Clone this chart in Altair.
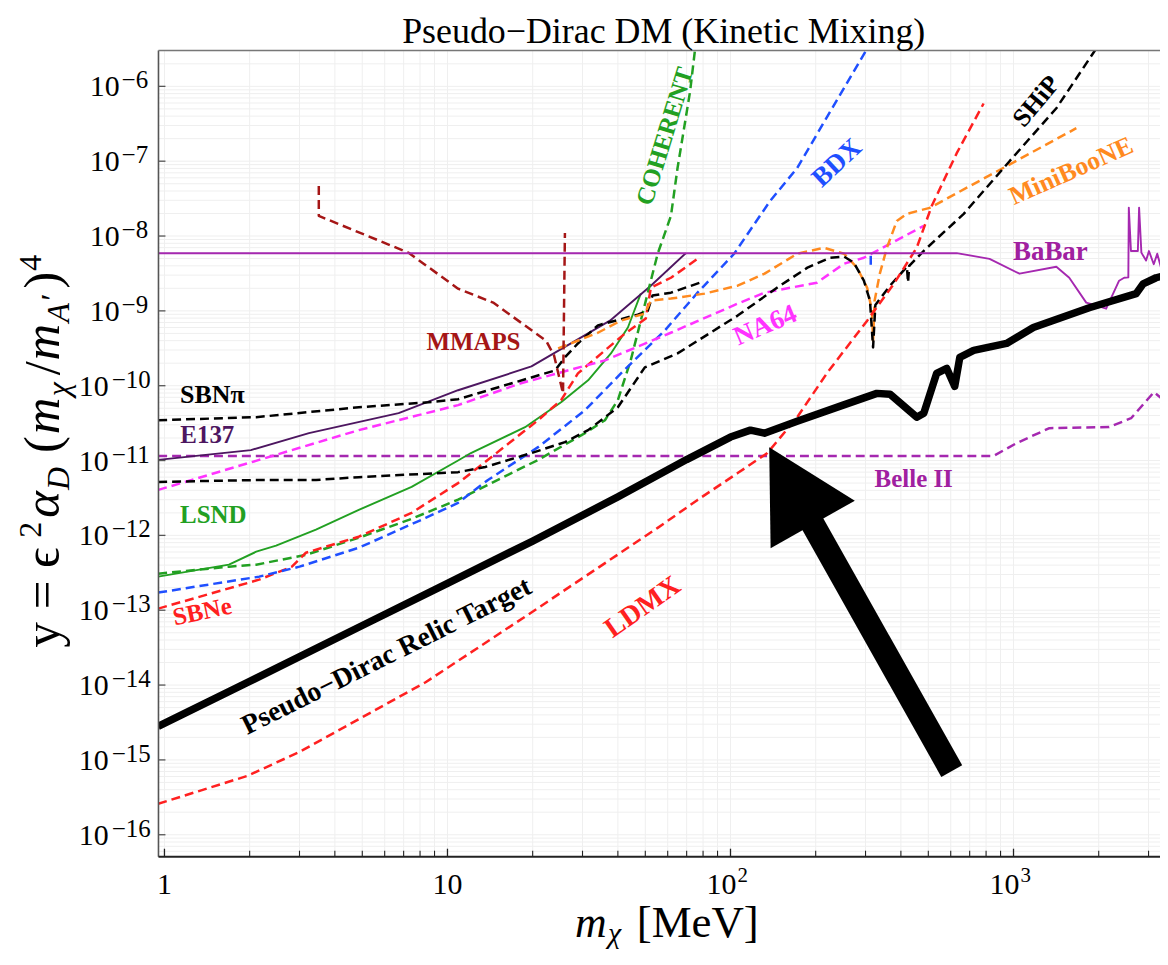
import altair as alt
import pandas as pd

# ---------------- data (m_chi [MeV], y) ----------------
relic = [(0.95, 2.8e-15), (2.0, 1.12e-14), (5.0, 6.25e-14), (10, 2.29e-13), (20, 8.4e-13),
         (40, 3.27e-12), (70, 1.03e-11), (100, 2.06e-11), (117.6, 2.55e-11), (131.8, 2.32e-11),
         (172, 3.36e-11), (250, 5.5e-11), (329, 7.9e-11), (366, 7.7e-11), (455, 3.8e-11),
         (482, 4.3e-11), (535, 1.46e-10), (581, 1.7e-10), (620, 9.8e-11), (646, 2.39e-10),
         (723, 2.96e-10), (945, 3.67e-10), (1175, 6.0e-10), (1852, 1.1e-9), (2713, 1.7e-9),
         (2870, 2.3e-9), (3190, 2.77e-9), (3400, 2.95e-9)]

babar = [(0.95, 5.9e-9), (630, 5.9e-9), (823, 4.96e-9), (1050, 3.14e-9), (1417, 3.89e-9),
         (1574, 2.77e-9), (1807, 1.29e-9), (1914, 1.21e-9), (2125, 1.07e-9), (2249, 1.70e-9),
         (2361, 2.53e-9), (2460, 2.77e-9), (2545, 2.8e-9), (2555, 2.4e-8), (2600, 6.3e-9),
         (2750, 6.3e-9), (2778, 2.4e-8), (2830, 6.0e-9), (2940, 4.7e-9), (3010, 6.3e-9),
         (3130, 4.2e-9), (3220, 5.8e-9), (3320, 3.8e-9), (3400, 5.0e-9)]

belle2 = [(0.95, 1.15e-11), (850, 1.15e-11), (1025, 1.71e-11), (1339, 2.71e-11), (2178, 2.8e-11),
          (2603, 3.68e-11), (3135, 8.2e-11), (3400, 6.4e-11)]

e137 = [(0.95, 1.02e-11), (2.02, 1.38e-11), (3.24, 2.32e-11), (6.72, 4.3e-11), (10.9, 8.7e-11),
        (19.8, 1.81e-10), (37.5, 7.4e-10), (52.3, 2.17e-9), (69.5, 5.9e-9)]

lsnd = [(0.95, 2.81e-13), (1.69, 4.06e-13), (2.11, 6.05e-13), (2.48, 7.3e-13), (3.43, 1.19e-12),
        (4.86, 2.19e-12), (7.47, 4.44e-12), (10.9, 1.0e-11), (12.1, 1.26e-11), (18.8, 2.79e-11),
        (25.2, 6.0e-11), (31.4, 1.18e-10), (37.8, 2.7e-10), (43.4, 6.0e-10), (48.2, 1.7e-9)]

excluded_boundary = lsnd + [(52.3, 2.17e-9), (69.5, 5.9e-9)] + babar[1:]

coherent = [(0.95, 3.08e-13), (1.69, 3.82e-13), (2.11, 4.06e-13), (3.16, 5.5e-13), (4.86, 9.3e-13),
            (7.3, 1.61e-12), (10.9, 3.0e-12), (20.9, 1.02e-11), (30.6, 2.32e-11), (36, 3.46e-11),
            (40, 6.4e-11), (44.4, 2.18e-10), (48.2, 7.4e-10), (52.3, 2.53e-9), (55.3, 5.8e-9),
            (61.6, 1.86e-8), (65, 8.1e-8), (72, 8.6e-7), (75, 3.2e-6)]

sbne = [(0.95, 1.05e-13), (2.16, 2.56e-13), (2.82, 3.82e-13), (3.16, 5.86e-13), (4.86, 9.6e-13),
        (7.47, 2.0e-12), (10.9, 5.0e-12), (12.9, 8.2e-12), (20.9, 3.46e-11), (25.2, 6.4e-11),
        (28.9, 1.46e-10), (36, 2.96e-10), (42.4, 4.99e-10), (50.2, 7.9e-10), (52.3, 2.04e-9),
        (61.6, 2.77e-9), (78.4, 5.3e-9)]

bdx = [(0.95, 1.72e-13), (2.16, 2.81e-13), (3.0, 3.82e-13), (4.86, 6.84e-13), (8.37, 1.71e-12),
       (10.9, 2.72e-12), (13.9, 5.5e-12), (20.9, 1.51e-11), (30.6, 4.7e-11), (41, 1.46e-10),
       (58.6, 5.47e-10), (76.5, 1.75e-9), (103, 5.8e-9), (138, 2.94e-8), (172, 8.1e-8), (304, 3.2e-6)]
bdx_dip = [(313, 5.44e-9), (313, 4.13e-9)]

sbnpi = [(0.95, 3.46e-11), (2.11, 3.8e-11), (4.86, 5.15e-11), (8.57, 6.0e-11), (10.9, 6.6e-11),
         (19.8, 1.29e-10), (24, 1.6e-10), (26, 2.39e-10), (28.9, 3.67e-10), (34, 6.4e-10),
         (47, 8.9e-10), (51, 1.0e-9), (53, 1.6e-9), (61.6, 1.75e-9), (79.7, 2.45e-9)]

ship = [(0.95, 5.18e-12), (2.16, 5.5e-12), (3.43, 5.5e-12), (4.86, 6.0e-12), (10.9, 7.0e-12),
        (13.6, 8.2e-12), (19.8, 1.26e-11), (26, 1.76e-11), (31.4, 2.55e-11), (40, 5.15e-11),
        (49.8, 1.76e-10), (65, 2.7e-10), (106, 8.65e-10), (146, 2.04e-9), (187, 3.78e-9),
        (225, 5.13e-9), (252, 5.3e-9), (273, 4.4e-9), (296, 2.53e-9), (311, 1.37e-9),
        (319, 3.24e-10), (325, 1.2e-9), (366, 2.17e-9), (420, 3.89e-9), (424, 2.4e-9),
        (428, 4.0e-9), (482, 6.35e-9), (667, 1.98e-8), (968, 1.0e-7), (1417, 5.1e-7), (1960, 3.2e-6)]

miniboone = [(24.6, 3.15e-10), (34, 5.1e-10), (41, 7.4e-10), (49.8, 9.2e-10), (52.3, 1.37e-9),
             (61.6, 1.46e-9), (81, 1.7e-9), (106, 2.17e-9), (132, 3.14e-9), (172, 5.8e-9),
             (214, 6.97e-9), (252, 5.8e-9), (280, 3.78e-9), (304, 2.04e-9), (316, 1.01e-9),
             (319, 4.0e-10), (323, 1.37e-9), (337, 3.14e-9), (357, 6.97e-9), (387, 1.59e-8),
             (420, 1.98e-8), (506, 2.38e-8), (1667, 2.76e-7)]

na64 = [(0.95, 4.05e-12), (2.16, 1.02e-11), (4.86, 2.55e-11), (10.9, 5.5e-11), (18.2, 1.08e-10),
        (36, 2.18e-10), (61.5, 5.1e-10), (106, 1.25e-9), (132, 1.75e-9), (202, 2.38e-9),
        (252, 4.27e-9), (296, 5.13e-9), (482, 1.37e-8)]

mmaps = [(3.51, 4.66e-8), (3.51, 1.86e-8), (7.29, 5.97e-9), (10.9, 1.98e-9), (14.5, 1.29e-9),
         (22.3, 4.0e-10), (23.8, 2.54e-10), (25.6, 7.9e-11), (26.0, 1.1e-8)]

ldmx = [(0.95, 2.59e-16), (1.96, 6.1e-16), (2.99, 1.27e-15), (4.86, 3.5e-15), (8.37, 1.09e-14),
        (18.8, 8.2e-14), (32.1, 3.18e-13), (55.3, 1.26e-12), (76.5, 2.98e-12), (106, 6.8e-12),
        (135, 1.26e-11), (172, 3.79e-11), (220, 1.5e-10), (304, 7.4e-10), (378, 2.31e-9),
        (455, 6.97e-9), (514, 2.52e-8), (630, 1.28e-7), (784, 5.9e-7)]

arrow_tail = (605, 7.1e-16)
arrow_neck = (174.3, 3.04e-12)
arrow_tip = (137, 1.51e-11)

# curve labels: text, m, y, angle, colour, size
labels = [
    ("MMAPS", 12.35, 3.79e-10, 0, "#a51616", 25),
    ("COHERENT", 58.6, 2.16e-7, 287, "#22a022", 25),
    ("BDX", 238, 9.44e-8, 317, "#1f4fff", 27),
    ("SHiP", 1205, 6.3e-7, 310, "#000000", 26),
    ("MiniBooNE", 1600, 7.38e-8, 336, "#ff8a1f", 26),
    ("BaBar", 1350, 6.17e-9, 0, "#a020a0", 27),
    ("NA64", 132.8, 6.37e-10, 337, "#ff33ff", 27),
    ("SBN\u03c0", 1.476, 7.45e-11, 0, "#000000", 26),
    ("E137", 1.417, 2.19e-11, 0, "#4d1660", 25),
    ("LSND", 1.488, 1.88e-12, 0, "#22a022", 25),
    ("SBNe", 1.36, 9.6e-14, 348, "#ff2020", 25),
    ("LDMX", 49, 1.09e-13, 325, "#ff2020", 28),
    ("Pseudo\u2212Dirac Relic Target", 6.1, 2.41e-14, 333.5, "#000000", 28),
    ("Belle II", 444, 5.68e-12, 0, "#a020a0", 25),
]

y_exponents = [-6, -7, -8, -9, -10, -11, -12, -13, -14, -15, -16]
x_decades = [1, 10, 100, 1000]
x_labels = ["1", "10", "10", "10"]
x_sup = ["", "", "2", "3"]

title = "Pseudo\u2212Dirac DM (Kinetic Mixing)"

# ---------------- layout ----------------
W, H = 1005, 809
X_DOMAIN = [0.9525, 3293]
Y_DOMAIN = [5.09e-17, 3.015e-6]
SERIF = "Liberation Serif"

xs = alt.Scale(type="log", domain=X_DOMAIN, nice=False)
ys = alt.Scale(type="log", domain=Y_DOMAIN, nice=False)
X = lambda f: alt.X(f, scale=xs, axis=None)
Y = lambda f: alt.Y(f, scale=ys, axis=None)


def df(pts):
    return pd.DataFrame({"m": [p[0] for p in pts], "y": [p[1] for p in pts], "i": list(range(len(pts)))})


def line(pts, color, dash=None, width=2.5):
    kw = dict(color=color, strokeWidth=width, clip=True, strokeJoin="round")
    if dash:
        kw["strokeDash"] = dash
    return alt.Chart(df(pts)).mark_line(**kw).encode(x=X("m:Q"), y=Y("y:Q"), order="i:Q")


D = [9, 5]
DW = 2.5
layers = []

# grid
grid_x = [k * 10 ** n for n in range(0, 4) for k in range(1, 10) if X_DOMAIN[0] <= k * 10 ** n <= X_DOMAIN[1]]
grid_y = [k * 10.0 ** n for n in range(-17, -5) for k in range(1, 10) if Y_DOMAIN[0] <= k * 10.0 ** n <= Y_DOMAIN[1]]
layers.append(alt.Chart(pd.DataFrame({"g": grid_x})).mark_rule(color="#efefef", strokeWidth=1).encode(x=X("g:Q")))
layers.append(alt.Chart(pd.DataFrame({"g": grid_y})).mark_rule(color="#efefef", strokeWidth=1).encode(y=Y("g:Q")))

# excluded region
bd = df(excluded_boundary)
bd["top"] = Y_DOMAIN[1] * 2
layers.append(alt.Chart(bd).mark_area(color="#d9d9d9", clip=True).encode(
    x=X("m:Q"), y=Y("y:Q"), y2="top:Q", order="i:Q"))

# curves
layers += [
    line(belle2, "#a528b0", D, DW),
    line(lsnd, "#22a022", None, 1.9),
    line(e137, "#4d1660", None, 1.9),
    line(coherent, "#22a022", D, DW),
    line(sbne, "#ff2020", D, DW),
    line(bdx, "#1f4fff", D, DW),
    line(bdx_dip, "#1f4fff", None, DW),
    line(na64, "#ff33ff", D, DW),
    line(sbnpi, "#000000", D, DW),
    line(miniboone, "#ff8a1f", D, DW),
    line(ship, "#000000", D, DW),
    line(mmaps, "#a51616", D, DW),
    line(ldmx, "#ff2020", D, DW),
    line(babar, "#a528b0", None, 1.9),
    line(relic, "#000000", None, 7.5),
]

# labels
for txt, m, yv, ang, col, sz in labels:
    layers.append(alt.Chart(pd.DataFrame({"t": [txt], "m": [m], "y": [yv]})).mark_text(
        font=SERIF, fontWeight="bold", fontSize=sz, color=col, angle=ang,
        align="center", baseline="middle").encode(x=X("m:Q"), y=Y("y:Q"), text="t:N"))

# arrow
layers.append(alt.Chart(df([arrow_tail, arrow_neck])).mark_line(
    color="black", strokeWidth=24, strokeCap="butt", clip=True).encode(x=X("m:Q"), y=Y("y:Q"), order="i:Q"))
layers.append(alt.Chart(df([arrow_tip])).mark_point(
    shape="M0,0L1.09,2L-1.09,2Z", size=7921, filled=True, color="black", opacity=1,
    angle=330.6, strokeWidth=0).encode(x=X("m:Q"), y=Y("y:Q")))

# frame
FRAME = "#555555"
layers.append(alt.Chart(pd.DataFrame({"a": [0]})).mark_rule(color=FRAME, strokeWidth=1.6).encode(
    x=alt.value(0), y=alt.value(0), y2=alt.value(H)))
layers.append(alt.Chart(pd.DataFrame({"a": [0]})).mark_rule(color="#777777", strokeWidth=1.6).encode(
    x=alt.value(0), x2=alt.value(W), y=alt.value(0)))
layers.append(alt.Chart(pd.DataFrame({"a": [0]})).mark_rule(color="#222222", strokeWidth=2).encode(
    x=alt.value(0), x2=alt.value(W), y=alt.value(H)))

# ticks
yt = pd.DataFrame({"v": [10.0 ** e for e in y_exponents]})
layers.append(alt.Chart(yt).mark_rule(color=FRAME, strokeWidth=1.3).encode(
    y=Y("v:Q"), x=alt.value(0), x2=alt.value(7)))
xt_major = pd.DataFrame({"v": x_decades})
xt_minor = pd.DataFrame({"v": [g for g in grid_x if g not in x_decades]})
layers.append(alt.Chart(xt_major).mark_rule(color="#222222", strokeWidth=1.3).encode(
    x=X("v:Q"), y=alt.value(H), y2=alt.value(H - 8)))
layers.append(alt.Chart(xt_minor).mark_rule(color="#222222", strokeWidth=1.1).encode(
    x=X("v:Q"), y=alt.value(H), y2=alt.value(H - 6)))

# y tick labels: "10" + superscript exponent
ylab = pd.DataFrame({"v": [10.0 ** e for e in y_exponents],
                     "ten": ["10"] * len(y_exponents),
                     "ex": ["\u2212" + str(-e) for e in y_exponents],
                     "nd": [len(str(-e)) for e in y_exponents]})
for nd, x_ten, x_exp in [(1, -39, -37), (2, -50, -47)]:
    sub = ylab[ylab.nd == nd]
    base = alt.Chart(sub)
    layers.append(base.mark_text(font=SERIF, fontSize=30, align="right", baseline="alphabetic", dy=10,
                                 color="black").encode(y=Y("v:Q"), x=alt.value(x_ten), text="ten:N"))
    layers.append(base.mark_text(font=SERIF, fontSize=25, align="left", baseline="alphabetic", dy=2,
                                 color="black").encode(y=Y("v:Q"), x=alt.value(x_exp), text="ex:N"))

# x tick labels
xlab = pd.DataFrame({"v": x_decades, "t": x_labels, "s": x_sup})
xl_plain = xlab[xlab.s == ""]
xl_sup = xlab[xlab.s != ""]
layers.append(alt.Chart(xl_plain).mark_text(font=SERIF, fontSize=30, align="center", baseline="alphabetic",
                                            color="black").encode(x=X("v:Q"), y=alt.value(H + 37), text="t:N"))
layers.append(alt.Chart(xl_sup).mark_text(font=SERIF, fontSize=30, align="right", baseline="alphabetic", dx=6,
                                          color="black").encode(x=X("v:Q"), y=alt.value(H + 37), text="t:N"))
layers.append(alt.Chart(xl_sup).mark_text(font=SERIF, fontSize=21, align="left", baseline="alphabetic", dx=7,
                                          color="black").encode(x=X("v:Q"), y=alt.value(H + 25), text="s:N"))


def piece(text, x, y, size, dx=0, dy=0, style="normal", angle=0):
    kw = dict(font=SERIF, fontSize=size, fontStyle=style, align="left", baseline="alphabetic",
              dx=dx, dy=dy, color="black")
    if angle:
        kw["angle"] = angle
    return alt.Chart(pd.DataFrame({"t": [text]})).mark_text(**kw).encode(
        x=alt.value(x), y=alt.value(y), text="t:N")


# title
layers.append(alt.Chart(pd.DataFrame({"t": [title]})).mark_text(
    font=SERIF, fontSize=36, align="center", baseline="alphabetic", color="black").encode(
    x=alt.value(507), y=alt.value(-8), text="t:N"))

# x axis title  m_chi [MeV]
XT_X, XT_Y = 418, H + 81
layers += [
    piece("m", XT_X, XT_Y, 44, 0, 0, "italic"),
    piece("\u03c7", XT_X, XT_Y, 30, 33, 6, "italic"),
    piece("[MeV]", XT_X, XT_Y, 45, 62, 0),
]

# y axis title  y = eps^2 alpha_D (m_chi/m_A')^4
YT_X, YT_Y, F, S = -100, 599, 51, 32
ypieces = [
    ("y = \u03f5", 0, 0, F, "normal"),
    ("2", 110, -18, S, "normal"),
    ("\u03b1", 130, 0, F, "italic"),
    ("D", 158, 10, S, "italic"),
    ("(", 195, 0, F, "normal"),
    ("m", 214, 0, F, "italic"),
    ("\u03c7", 252, 10, S, "italic"),
    ("/", 273, 0, F, "normal"),
    ("m", 288, 0, F, "italic"),
    ("A", 326, 10, S, "italic"),
    ("\u2032", 348, 4, S, "normal"),
    (")", 360, 0, F, "normal"),
    ("4", 378, -18, S, "normal"),
]
for t, dx, dy, sz, st in ypieces:
    layers.append(piece(t, YT_X, YT_Y, sz, dx, dy, st, angle=270))

chart = alt.layer(*layers).properties(
    width=W, height=H,
    autosize=alt.AutoSizeParams(type="none"),
    padding={"left": 151, "top": 41, "right": 0, "bottom": 92},
).configure_view(stroke=None)

chart.save("out.html", embed_options={"renderer": "svg", "actions": False})
